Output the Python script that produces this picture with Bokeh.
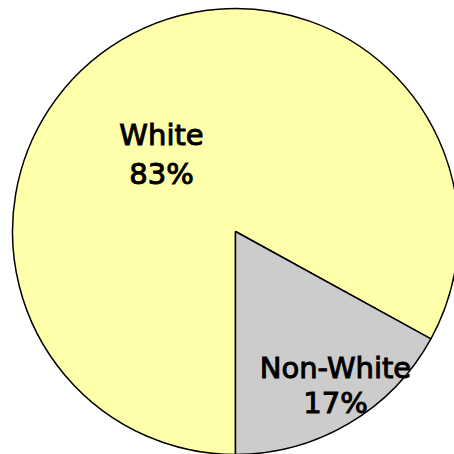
import math
from bokeh.plotting import figure
from bokeh.models import Range1d, ColumnDataSource
from bokeh.core.properties import value
from bokeh.embed import file_html
from bokeh.resources import INLINE

categories = ["White", "Non-White"]
values = [83, 17]
colors = ["#FFFFAA", "#CCCCCC"]

W = H = 454
p = figure(width=W, height=H, output_backend="svg", toolbar_location=None,
           x_range=Range1d(0, W), y_range=Range1d(0, H), min_border=0)
p.axis.visible = False
p.grid.visible = False
p.outline_line_color = None
p.background_fill_color = "white"

cx, cy, r = 235, 223, 223
total = sum(values)
# Non-White starts pointing straight down and runs counterclockwise
start = -math.pi / 2
starts, ends = {}, {}
for cat in ["Non-White", "White"]:
    v = values[categories.index(cat)]
    a = 2 * math.pi * v / total
    starts[cat] = start
    ends[cat] = start + a
    start += a

src = ColumnDataSource(dict(
    x=[cx] * len(categories), y=[cy] * len(categories),
    start=[starts[c] for c in categories], end=[ends[c] for c in categories],
    color=colors))
p.wedge(x="x", y="y", radius=r, start_angle="start", end_angle="end",
        fill_color="color", line_color="black", line_width=1.5, source=src)

# label layout: (center x, baseline of first line, baseline of second line)
label_pos = {"White": (161, 320, 281), "Non-White": (335, 87, 52)}
lx, ly, lt = [], [], []
for c, v in zip(categories, values):
    x0, y1, y2 = label_pos[c]
    lx += [x0, x0]
    ly += [y1, y2]
    lt += [c, f"{v}%"]
tsrc = ColumnDataSource(dict(x=lx, y=ly, text=lt))
p.text(x="x", y="y", text="text", source=tsrc, text_align="center",
       text_baseline="alphabetic", text_font=value("DejaVu Sans"),
       text_font_size="29px", text_font_style="normal", text_color="black",
       text_outline_color="black")

open("out.html", "w").write(file_html(p, INLINE))
